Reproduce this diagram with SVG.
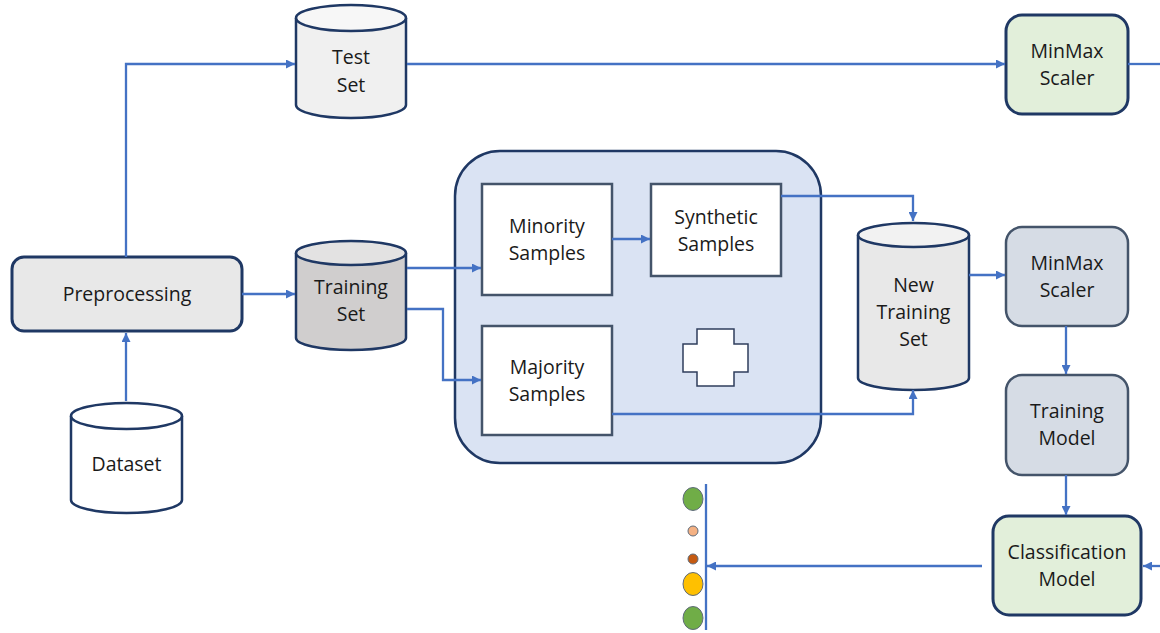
<svg xmlns="http://www.w3.org/2000/svg" width="1160" height="633" viewBox="0 0 1160 633">
  <defs>
    <marker id="arrow" viewBox="0 0 10 10" refX="10" refY="5" markerWidth="9" markerHeight="9" orient="auto" markerUnits="userSpaceOnUse">
      <path d="M0,0 L10,5 L0,10 Z" fill="#4472c4"/>
    </marker>
    <style>
      text { font-family: "Open Sans", "Noto Sans", "DejaVu Sans", sans-serif; font-size: 19.5px; fill: #1a1a1a; text-anchor: middle; }
      .conn { fill: none; stroke: #4472c4; stroke-width: 2.3; }
      .cyl { stroke: #1f3864; stroke-width: 2.5; }
      .navy { stroke: #1f3864; stroke-width: 3; }
      .slate { stroke: #44546a; stroke-width: 2.5; }
      .inner { fill: #ffffff; stroke: #44546a; stroke-width: 2.5; }
      .dot { stroke: #5f6b7a; stroke-width: 1; }
    </style>
  </defs>
  <rect width="1160" height="633" fill="#ffffff"/>

  <!-- Test Set -->
  <g id="test-set">
    <path class="cyl" fill="#f0f0f0" d="M296,18 V105 A55,13 0 0 0 406,105 V18"/>
    <ellipse class="cyl" cx="351" cy="18" rx="55" ry="13" fill="#f7f7f7"/>
    <text x="351" y="64">Test</text>
    <text x="351" y="92">Set</text>
  </g>

  <!-- Training Set -->
  <g id="training-set">
    <path class="cyl" fill="#d0cece" d="M296,253 V338 A55,12 0 0 0 406,338 V253"/>
    <ellipse class="cyl" cx="351" cy="253" rx="55" ry="12" fill="#e3e2e2"/>
    <text x="351" y="294">Training</text>
    <text x="351" y="321">Set</text>
  </g>

  <!-- Dataset -->
  <g id="dataset">
    <path class="cyl" fill="#ffffff" d="M71,416 V500 A55.5,13 0 0 0 182,500 V416"/>
    <ellipse class="cyl" cx="126.5" cy="416" rx="55.5" ry="13" fill="#ffffff"/>
    <text x="126.5" y="471">Dataset</text>
  </g>

  <!-- Preprocessing -->
  <g id="preprocessing">
    <rect class="navy" x="12" y="257" width="230" height="74" rx="12" fill="#e8e8e8"/>
    <text x="127" y="301">Preprocessing</text>
  </g>

  <!-- Resampling block -->
  <g id="resampling">
    <rect x="455" y="151" width="366" height="312" rx="45" fill="#dae3f3" stroke="#1f3864" stroke-width="2.5"/>
  </g>
  <g id="minority-samples">
    <rect class="inner" x="482" y="184" width="130" height="111"/>
    <text x="547" y="233">Minority</text>
    <text x="547" y="260">Samples</text>
  </g>
  <g id="synthetic-samples">
    <rect class="inner" x="651" y="184" width="130" height="92"/>
    <text x="716" y="224">Synthetic</text>
    <text x="716" y="251">Samples</text>
  </g>
  <g id="majority-samples">
    <rect class="inner" x="482" y="326" width="130" height="109"/>
    <text x="547" y="374">Majority</text>
    <text x="547" y="401">Samples</text>
  </g>
  <g id="plus">
    <path d="M697,329 H734 V344 H748 V372 H734 V386 H697 V372 H683 V344 H697 Z" fill="#ffffff" stroke="#2f3e5c" stroke-width="1.5"/>
  </g>

  <!-- New Training Set -->
  <g id="new-training-set">
    <path class="cyl" fill="#e8e8e8" d="M858,235 V378 A55.5,12 0 0 0 969,378 V235"/>
    <ellipse class="cyl" cx="913.5" cy="235" rx="55.5" ry="12" fill="#f2f2f2"/>
    <text x="913.5" y="292">New</text>
    <text x="913.5" y="319">Training</text>
    <text x="913.5" y="346">Set</text>
  </g>

  <!-- MinMax Scaler (test path) -->
  <g id="minmax-test">
    <rect class="navy" x="1006" y="15" width="122" height="99" rx="16" fill="#e2efda"/>
    <text x="1067" y="58">MinMax</text>
    <text x="1067" y="85">Scaler</text>
  </g>

  <!-- MinMax Scaler (train path) -->
  <g id="minmax-train">
    <rect class="slate" x="1006" y="227" width="122" height="99" rx="16" fill="#d6dce5"/>
    <text x="1067" y="270">MinMax</text>
    <text x="1067" y="297">Scaler</text>
  </g>

  <!-- Training Model -->
  <g id="training-model">
    <rect class="slate" x="1006" y="375" width="122" height="100" rx="16" fill="#d6dce5"/>
    <text x="1067" y="418">Training</text>
    <text x="1067" y="445">Model</text>
  </g>

  <!-- Classification Model -->
  <g id="classification-model">
    <rect class="navy" x="993" y="516" width="148" height="99" rx="16" fill="#e2efda"/>
    <text x="1067" y="559">Classification</text>
    <text x="1067" y="586">Model</text>
  </g>

  <!-- predicted classes -->
  <g id="predictions">
    <ellipse class="dot" cx="693" cy="499" rx="10" ry="11.5" fill="#70ad47"/>
    <ellipse class="dot" cx="693" cy="531" rx="5" ry="5" fill="#f4b183"/>
    <ellipse class="dot" cx="693" cy="559" rx="5" ry="5" fill="#c55a11"/>
    <ellipse class="dot" cx="693" cy="584" rx="10" ry="11.5" fill="#ffc000"/>
    <ellipse class="dot" cx="693" cy="618" rx="10" ry="11.5" fill="#70ad47"/>
  </g>

  <!-- connectors, drawn on top so they cross the resampling block -->
  <g id="connectors">
    <path class="conn" d="M126,257 V64 H295" marker-end="url(#arrow)"/>
    <path class="conn" d="M407,64 H1005" marker-end="url(#arrow)"/>
    <path class="conn" d="M1128,64 H1160"/>
    <path class="conn" d="M242,294 H295" marker-end="url(#arrow)"/>
    <path class="conn" d="M126,401 V333" marker-end="url(#arrow)"/>
    <path class="conn" d="M407,268 H481" marker-end="url(#arrow)"/>
    <path class="conn" d="M407,309 H443 V380 H481" marker-end="url(#arrow)"/>
    <path class="conn" d="M612,239 H650" marker-end="url(#arrow)"/>
    <path class="conn" d="M781,196 H913 V221" marker-end="url(#arrow)"/>
    <path class="conn" d="M612,414 H913 V390" marker-end="url(#arrow)"/>
    <path class="conn" d="M969,275 H1005" marker-end="url(#arrow)"/>
    <path class="conn" d="M1066,326 V374" marker-end="url(#arrow)"/>
    <path class="conn" d="M1066,475 V515" marker-end="url(#arrow)"/>
    <path class="conn" d="M1160,566 H1143" marker-end="url(#arrow)"/>
    <path class="conn" d="M982,566 H707" marker-end="url(#arrow)"/>
    <path class="conn" d="M706,484 V630"/>
  </g>
</svg>
